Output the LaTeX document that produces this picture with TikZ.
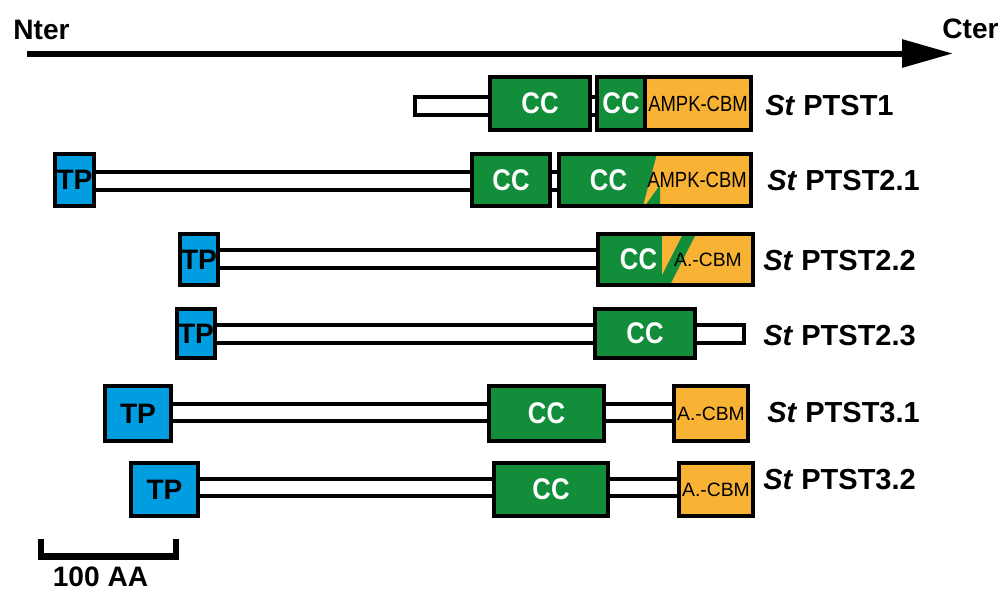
\documentclass[tikz,border=0pt]{standalone}
\usepackage{fontspec}
\setmainfont{Liberation Sans}
\usetikzlibrary{arrows.meta, backgrounds}

\definecolor{domgreen}{RGB}{18,142,58}
\definecolor{domorange}{RGB}{248,178,52}
\definecolor{tpblue}{RGB}{0,158,224}
\newcommand{\pxu}{0.02cm}
\newcommand{\narrow}[1]{\scalebox{0.86}[1]{#1}}

\begin{document}
\begin{tikzpicture}[x=0.02cm, y=-0.02cm]
    \tikzstyle{box} = [draw, rectangle, line width=0.08cm, inner sep=0pt, outer sep=0pt];
    \tikzstyle{tp} = [box, fill=tpblue, font=\fontsize{16}{18}\selectfont\bfseries];
    \tikzstyle{cc} = [box, fill=domgreen, text=white, font=\fontsize{17}{19}\selectfont\bfseries];
    \tikzstyle{cbm} = [box, fill=domorange, font=\fontsize{11}{13}\selectfont];
    \tikzstyle{cctext} = [inner sep=0pt, text=white, font=\fontsize{17}{19}\selectfont\bfseries];
    \tikzstyle{cbmtext} = [inner sep=0pt, font=\fontsize{11}{13}\selectfont];
    \tikzstyle{linker} = [draw, fill=white, line width=0.08cm];
    \tikzstyle{protlbl} = [anchor=west, inner sep=0pt, font=\fontsize{16.5}{19}\selectfont\bfseries];
    \tikzstyle{axlbl} = [anchor=west, inner sep=0pt, font=\fontsize{16}{18}\selectfont\bfseries];

    \useasboundingbox (0,0) rectangle (1000,592);

    % axis
    \node[axlbl] (nter) at (13,30) {Nter};
    \node[axlbl] (cter) at (942,29) {Cter};
    \coordinate (axstart) at (27,53.5);
    \coordinate (axend) at (953,53.5);
    \draw[line width=0.12cm, -{Triangle[length=1.02cm, width=0.54cm]}] (axstart) -- (axend);

    % PTST1
    \node[cc, minimum width=100*\pxu, minimum height=53*\pxu] (cc1a) at (540,103.5) {\narrow{CC}};
    \node[cc, minimum width=48*\pxu, minimum height=53*\pxu] (cc1b) at (621,103.5) {\narrow{CC}};
    \node[cbm, minimum width=106*\pxu, minimum height=53*\pxu] (cbm1) at (698,103.5)
        {\fontsize{12.5}{14}\selectfont\scalebox{0.84}[1]{AMPK-CBM}};
    \coordinate (n1) at (415,97);
    \node[protlbl] (lbl1) at (765,106) {\textit{St} PTST1};

    % PTST2.1
    \node[tp, minimum width=39*\pxu, minimum height=52*\pxu] (tp21) at (74.5,180) {TP};
    \node[cc, minimum width=78*\pxu, minimum height=52*\pxu] (cc21a) at (511,180) {\narrow{CC}};
    \node[cc, minimum width=192*\pxu, minimum height=52*\pxu] (dom21) at (655,180) {};
    \fill[domorange] (657,154) -- (dom21.north east) -- (dom21.south east) -- (643,206) -- cycle;
    \fill[domgreen] (645,206) -- (660,206) -- (660,185) -- cycle;
    \draw[line width=0.08cm] (dom21.north west) rectangle (dom21.south east);
    \node[cctext] (cc21b) at (608.5,180) {\narrow{CC}};
    \node[cbmtext] (cbm21) at (697,180) {\fontsize{12.5}{14}\selectfont\scalebox{0.84}[1]{AMPK-CBM}};
    \node[protlbl] (lbl21) at (767,181) {\textit{St} PTST2.1};

    % PTST2.2
    \node[tp, minimum width=38*\pxu, minimum height=51*\pxu] (tp22) at (199,259.5) {TP};
    \node[cc, minimum width=155*\pxu, minimum height=51*\pxu] (dom22) at (675.5,259.5) {};
    \fill[domorange] (662,234) rectangle (dom22.south east);
    \fill[domgreen] (662,285) -- (670,285) -- (696,234) -- (683,234) -- (662,275.2) -- cycle;
    \draw[line width=0.08cm] (dom22.north west) rectangle (dom22.south east);
    \node[cctext] (cc22) at (638.5,259.5) {\narrow{CC}};
    \node[cbmtext] (cbm22) at (708,259.5) {A.-CBM};
    \node[protlbl] (lbl22) at (763,261) {\textit{St} PTST2.2};

    % PTST2.3
    \node[tp, minimum width=38*\pxu, minimum height=49*\pxu] (tp23) at (196,333.5) {TP};
    \node[cc, minimum width=100*\pxu, minimum height=49*\pxu] (cc23) at (645,333.5) {\narrow{CC}\hspace{10pt}};
    \coordinate (end23) at (744,343);
    \node[protlbl] (lbl23) at (763,336) {\textit{St} PTST2.3};

    % PTST3.1
    \node[tp, minimum width=66*\pxu, minimum height=55*\pxu] (tp31) at (138,413.5) {TP};
    \node[cc, minimum width=115*\pxu, minimum height=55*\pxu] (cc31) at (546.5,413.5) {\narrow{CC}};
    \node[cbm, minimum width=74*\pxu, minimum height=55*\pxu] (cbm31) at (711,413.5) {A.-CBM};
    \node[protlbl] (lbl31) at (767,413) {\textit{St} PTST3.1};

    % PTST3.2
    \node[tp, minimum width=67*\pxu, minimum height=53*\pxu] (tp32) at (164.5,489.5) {TP};
    \node[cc, minimum width=114*\pxu, minimum height=53*\pxu] (cc32) at (551,489.5) {\narrow{CC}};
    \node[cbm, minimum width=74*\pxu, minimum height=53*\pxu] (cbm32) at (716,489.5) {A.-CBM};
    \node[protlbl] (lbl32) at (763,480) {\textit{St} PTST3.2};

    % linkers behind the domains
    \begin{pgfonlayer}{background}
        \draw[linker] (n1) rectangle (cc1b.west |- 0,115);
        \draw[linker] (tp21.east |- 0,172) rectangle (dom21.west |- 0,190);
        \draw[linker] (tp22.east |- 0,250) rectangle (dom22.west |- 0,268);
        \draw[linker] (tp23.east |- 0,325) rectangle (end23);
        \draw[linker] (tp31.east |- 0,404) rectangle (cbm31.west |- 0,421);
        \draw[linker] (tp32.east |- 0,479) rectangle (cbm32.west |- 0,496);
    \end{pgfonlayer}

    % scale bar
    \coordinate (barA) at (41,539);
    \coordinate (barB) at (41,556.5);
    \coordinate (barC) at (176,556.5);
    \coordinate (barD) at (176,539);
    \draw[line width=0.13cm] (barA) -- (barB) -- (barC) -- (barD);
    \node[axlbl, anchor=center] (scalelbl) at (100.5,577) {100 AA};
\end{tikzpicture}
\end{document}
